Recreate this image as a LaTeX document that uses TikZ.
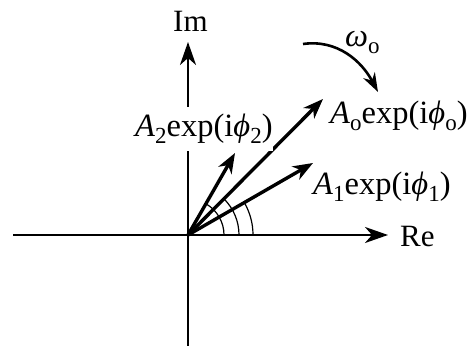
\documentclass[tikz,border=0pt]{standalone}
\usepackage{fontspec}
\setmainfont{Liberation Serif}
\usetikzlibrary{arrows.meta,calc}
\newcommand\sbx[1]{\raisebox{-0.2em}{\fontsize{23}{23}\selectfont #1}}
\newcommand\phx{\textit{ϕ}}
\begin{document}
\begin{tikzpicture}[x=1pt,y=1pt,
  lbl/.style={inner sep=0pt, anchor=base west, font=\fontsize{31}{36}\selectfont},
  flbl/.style={lbl, font=\fontsize{32.5}{38}\selectfont},
  axisline/.style={line width=2.4pt, -{Stealth[length=23pt,width=16pt,inset=7pt]}},
  vec/.style={line width=3.4pt, -{Stealth[length=20pt,width=15pt,inset=6pt]}},
  ang/.style={line width=1.2pt},
  rot/.style={line width=2.6pt, -{Stealth[length=19pt,width=13pt,inset=6pt]}}]
\useasboundingbox (0,0) rectangle (473,347);
% coordinates
\coordinate (O) at (188,112);
\coordinate (W) at (13,112);
\coordinate (E) at (388,112);
\coordinate (S) at (188,1);
\coordinate (N) at (188,305);
\coordinate (T1) at (313,184);
\coordinate (To) at (323,248);
\coordinate (T2) at (235,194);
\coordinate (R1) at (303,303);
\coordinate (R2) at (378,255);
% axes
\draw[axisline] (W) -- (E);
\draw[axisline] (S) -- (N);
% angle arcs
\draw[ang] ($(O)+(36,0)$) arc[start angle=0,end angle=60.2,radius=36];
\draw[ang] ($(O)+(51,0)$) arc[start angle=0,end angle=45.2,radius=51];
\draw[ang] ($(O)+(65,0)$) arc[start angle=0,end angle=30,radius=65];
% vectors
\draw[vec] (O) -- (T1);
\draw[vec] (O) -- (To);
\draw[vec] (O) -- (T2);
% rotation arrow
\draw[rot] (R1) to[out=8,in=118] (R2);
% labels
\node[lbl] (im) at (173,315) {Im};
\node[lbl] (re) at (400,100) {Re};
\node[flbl] (lo) at (330,223) {\textit{A}\sbx{o}exp(i\phx\sbx{o})};
\node[flbl] (l1) at (313,152) {\textit{A}\sbx{1}exp(i\phx\sbx{1})};
\node[flbl, fill=white, inner ysep=7pt] (l2) at (135,210) {\textit{A}\sbx{2}exp(i\phx\sbx{2})};
\node[flbl] (om) at (345,300) {\textit{ω}\sbx{o}};
\end{tikzpicture}
\end{document}
